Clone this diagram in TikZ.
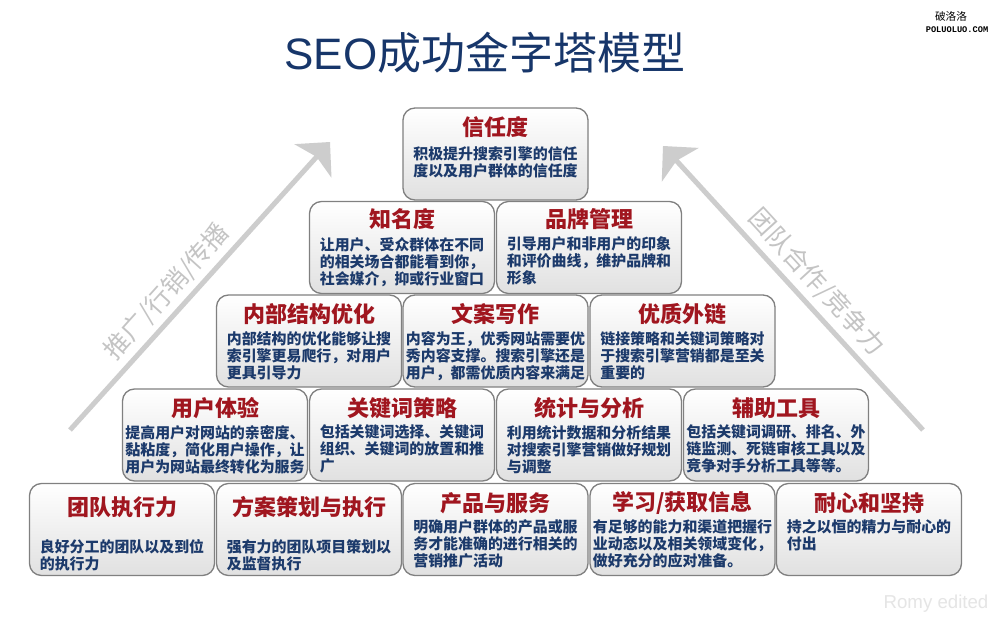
\documentclass[tikz,border=0pt]{standalone}
\usepackage{fontspec}
\setmainfont{Noto Sans CJK SC}
\newfontfamily\latinsans{Liberation Sans}
\newfontfamily\monofam{Liberation Mono}
\usetikzlibrary{arrows.meta,calc}
\definecolor{ttlred}{HTML}{A0161F}
\definecolor{bodyblue}{HTML}{1C3A6B}
\definecolor{titleblue}{HTML}{17366A}
\definecolor{arrgray}{HTML}{CDCDCD}
\definecolor{lblgray}{HTML}{C4C4C4}
\definecolor{boxline}{HTML}{808080}
\newcommand\pyrbox[7]{%
  \node[pbox] (#1) at (#2,#3) {};
  \node[ttl] (#1t) at ($(#1.north)+(0,#6)$) {#4};
  \node[bodytext] (#1b) at ($(#1.north)+(0,#7)$) {#5};
}
\begin{document}
\begin{tikzpicture}[x=0.75pt,y=-0.75pt,
  pbox/.style={draw=boxline, line width=1pt, rounded corners=9pt,
    minimum width=138.75pt, minimum height=69pt, inner sep=0pt,
    top color=white, bottom color=black!12},
  ttl/.style={text=ttlred, font=\fontsize{16.5}{18}\selectfont\bfseries, inner sep=0pt},
  bodytext/.style={text=bodyblue, font=\fontsize{11.2}{12.75}\selectfont\bfseries,
    align=left, inner sep=0pt, anchor=north},
  bigarrow/.style={draw=arrgray, line width=3.75pt,
    -{Stealth[length=19pt,width=37pt,inset=4pt]}},
  lbl/.style={text=lblgray, font=\fontsize{19}{20}\selectfont, inner sep=0pt}]
\useasboundingbox (0,0) rectangle (1000,620);
\fill[white] (0,0) rectangle (1000,620);
% title and marks
\node[text=titleblue, font=\fontsize{33}{36}\selectfont, inner sep=0pt] (title) at (485,53) {{\latinsans SEO}成功金字塔模型};
\node[font=\fontsize{8}{9}\selectfont, inner sep=0pt] (logoa) at (951,16) {破洛洛};
\node[font=\monofam\bfseries\fontsize{6.5}{7}\selectfont, inner sep=0pt] (logob) at (957,30) {POLUOLUO.COM};
\node[text=black!10, font=\latinsans\fontsize{14}{15}\selectfont, inner sep=0pt] (romy) at (936,604) {Romy edited};
% arrows
\coordinate (la1) at (70,430);
\coordinate (la2) at (330,142);
\coordinate (ra1) at (923,430);
\coordinate (ra2) at (663,146);
\draw[bigarrow] (la1) -- (la2);
\draw[bigarrow] (ra1) -- (ra2);
\node[lbl, rotate=48] (llbl) at (167,292) {推广/行销/传播};
\node[lbl, rotate=-47.5] (rlbl) at (817,282) {团队合作/竞争力};
% row 1
\pyrbox{b11}{495.5}{154}{信任度}{积极提升搜索引擎的信任\\度以及用户群体的信任度}{20}{39.5}
% row 2
\pyrbox{b21}{402}{247.5}{知名度}{让用户、受众群体在不同\\的相关场合都能看到你，\\社会媒介，抑或行业窗口}{18}{36}
\pyrbox{b22}{589}{247.5}{品牌管理}{引导用户和非用户的印象\\和评价曲线，维护品牌和\\形象}{18}{36}
% row 3
\pyrbox{b31}{309}{341}{内部结构优化}{内部结构的优化能够让搜\\索引擎更易爬行，对用户\\更具引导力}{20}{36.5}
\pyrbox{b32}{495.5}{341}{文案写作}{内容为王，优秀网站需要优\\秀内容支撑。搜索引擎还是\\用户，都需优质内容来满足}{20}{36.5}
\pyrbox{b33}{682.5}{341}{优质外链}{链接策略和关键词策略对\\于搜索引擎营销都是至关\\重要的}{20}{36.5}
% row 4
\pyrbox{b41}{215}{435}{用户体验}{提高用户对网站的亲密度、\\黏粘度，简化用户操作，让\\用户为网站最终转化为服务}{20}{36.5}
\pyrbox{b42}{402}{435}{关键词策略}{包括关键词选择、关键词\\组织、关键词的放置和推\\广}{20}{36.5}
\pyrbox{b43}{589}{435}{统计与分析}{利用统计数据和分析结果\\对搜索引擎营销做好规划\\与调整}{20}{36.5}
\pyrbox{b44}{776}{435}{辅助工具}{包括关键词调研、排名、外\\链监测、死链审核工具以及\\竞争对手分析工具等等。}{20}{36.5}
% row 5
\pyrbox{b51}{122}{529.5}{团队执行力}{良好分工的团队以及到位\\的执行力}{24}{56.5}
\pyrbox{b52}{309}{529.5}{方案策划与执行}{强有力的团队项目策划以\\及监督执行}{24}{56.5}
\pyrbox{b53}{495.5}{529.5}{产品与服务}{明确用户群体的产品或服\\务才能准确的进行相关的\\营销推广活动}{20}{36.5}
\pyrbox{b54}{682.5}{529.5}{学习/获取信息}{有足够的能力和渠道把握行\\业动态以及相关领域变化，\\做好充分的应对准备。}{20}{36.5}
\pyrbox{b55}{869}{529.5}{耐心和坚持}{持之以恒的精力与耐心的\\付出}{20}{36.5}
\end{tikzpicture}
\end{document}
